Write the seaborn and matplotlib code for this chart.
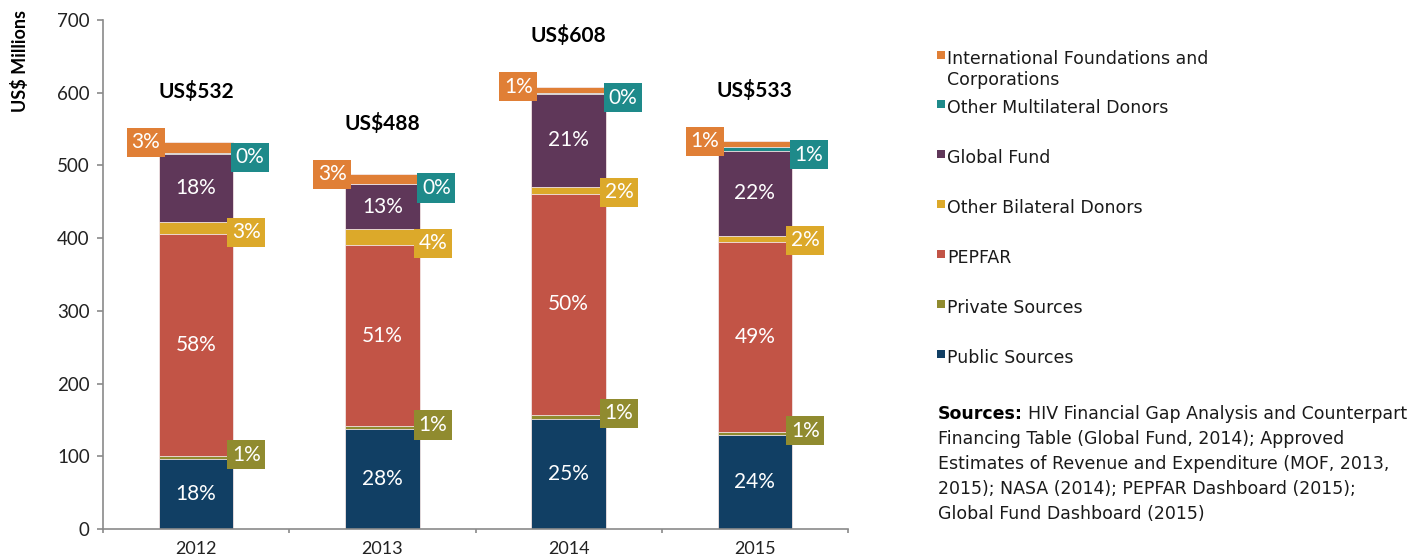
import matplotlib
matplotlib.use('Agg')
import matplotlib.pyplot as plt
import seaborn as sns
import numpy as np
from matplotlib.patches import Rectangle

# Data (US$ millions)
years = ['2012', '2013', '2014', '2015']
totals = [532, 488, 608, 533]
public = [96, 137, 151, 129]
private = [4, 4, 6, 4]
pepfar = [306, 250, 304, 262]
bilateral = [16, 21, 10, 8]
global_fund = [94, 62, 127, 117]
multilateral = [1, 1, 1, 5]
intl = [15, 13, 9, 8]

# percentage labels as printed on the chart
pct_public = ['18%', '28%', '25%', '24%']
pct_private = ['1%', '1%', '1%', '1%']
pct_pepfar = ['58%', '51%', '50%', '49%']
pct_bilateral = ['3%', '4%', '2%', '2%']
pct_gf = ['18%', '13%', '21%', '22%']
pct_multi = ['0%', '0%', '0%', '1%']
pct_intl = ['3%', '3%', '1%', '1%']

names = ['Public Sources', 'Private Sources', 'PEPFAR', 'Other Bilateral Donors',
         'Global Fund', 'Other Multilateral Donors',
         'International Foundations and\nCorporations']
colors = ['#113F64', '#908B2F', '#C25446', '#DCA92A', '#5F3759', '#1E8A8A', '#E07F36']

sources_lines = ['HIV Financial Gap Analysis and Counterpart',
                 'Financing Table (Global Fund, 2014); Approved',
                 'Estimates of Revenue and Expenditure (MOF, 2013,',
                 '2015); NASA (2014); PEPFAR Dashboard (2015);',
                 'Global Fund Dashboard (2015)']

sns.set_theme(style='white')
plt.rcParams['font.family'] = ['Lato', 'DejaVu Sans']
side_font = ['DejaVu Sans']

W, H = 1427, 559
fig = plt.figure(figsize=(W / 100, H / 100), dpi=100)
ax = fig.add_axes([103 / W, 1 - 529 / H, 745 / W, 509 / H])

def px(x, y):
    return x / W, 1 - y / H

layers = np.array([public, private, pepfar, bilateral, global_fund, multilateral, intl])
cum = np.cumsum(layers, axis=0)

# stacked bars: draw cumulative heights from the top layer down
for i in reversed(range(len(layers))):
    sns.barplot(x=years, y=cum[i], color=colors[i], width=0.4, saturation=1,
                errorbar=None, ax=ax, edgecolor='#f3e6e6', linewidth=0.6)

ax.set_ylim(0, 700)
ax.set_xlim(-0.5, 3.5)
ax.set_yticks(range(0, 701, 100))
ax.set_xticks(range(4))
ax.set_xticks(np.arange(-0.5, 4, 1), minor=True)
ax.set_xlabel('')
ax.set_ylabel('')
for s in ['top', 'right']:
    ax.spines[s].set_visible(False)
for s in ['left', 'bottom']:
    ax.spines[s].set_color('#8a8a8a')
    ax.spines[s].set_linewidth(1.2)
ax.tick_params(axis='y', which='major', left=True, length=4.5, width=1.2, color='#8a8a8a',
               labelsize=13.5, labelcolor='#222222', pad=5)
ax.tick_params(axis='x', which='major', bottom=False, labelsize=13, labelcolor='#222222', pad=3)
ax.tick_params(axis='x', which='minor', bottom=True, length=3, width=1.2, color='#8a8a8a')

def box(x, y, s, c):
    ax.text(x, y, s, ha='center', va='center', color='white', fontsize=15,
            bbox=dict(boxstyle='square,pad=0.22', fc=c, ec='none'))

for j in range(4):
    # labels inside the bars
    ax.text(j, public[j] / 2, pct_public[j], ha='center', va='center', color='white', fontsize=15)
    ax.text(j, cum[1][j] + pepfar[j] / 2, pct_pepfar[j], ha='center', va='center', color='white', fontsize=15)
    ax.text(j, cum[3][j] + global_fund[j] / 2, pct_gf[j], ha='center', va='center', color='white', fontsize=15)
    # callout boxes
    box(j + 0.27, cum[1][j] + 2, pct_private[j], colors[1])
    box(j + 0.27, cum[2][j] + 2, pct_bilateral[j], colors[3])
    box(j + 0.29, cum[4][j] - 5, pct_multi[j], colors[5])
    box(j - 0.27, cum[6][j], pct_intl[j], colors[6])
    ax.text(j, totals[j] + 70, 'US$' + str(totals[j]), ha='center', va='center',
            fontsize=15, fontweight='bold', color='black')

fig.text(*px(20, 10), 'US$ Millions', rotation=90, ha='center', va='top',
         fontsize=13, fontweight='bold', color='black')

# legend, top entry first
base = 64
for k, i in enumerate(reversed(range(len(names)))):
    b = base if k == 0 else 113 + 50 * (k - 1)
    fig.patches.append(Rectangle(px(937, b - 5), 8 / W, 8 / H, transform=fig.transFigure,
                                 facecolor=colors[i], edgecolor='none'))
    lines = names[i].split('\n')
    for m, ln in enumerate(lines):
        fig.text(*px(947, b + 21 * m), ln, ha='left', va='baseline', fontsize=12.5,
                 color='#1a1a1a', family=side_font)

# sources note
t = fig.text(*px(938, 419), 'Sources:', ha='left', va='baseline', fontsize=12.5,
             fontweight='bold', color='black', family=side_font)
fig.canvas.draw()
bb = t.get_window_extent()
fig.text(bb.x1 / W + 5 / W, 1 - 419 / H, sources_lines[0], ha='left', va='baseline',
         fontsize=12.5, color='#1a1a1a', family=side_font)
for n, line in enumerate(sources_lines[1:]):
    fig.text(*px(938, 419 + 25 * (n + 1)), line, ha='left', va='baseline', fontsize=12.5,
             color='#1a1a1a', family=side_font)

fig.savefig('out.png', dpi=100)
